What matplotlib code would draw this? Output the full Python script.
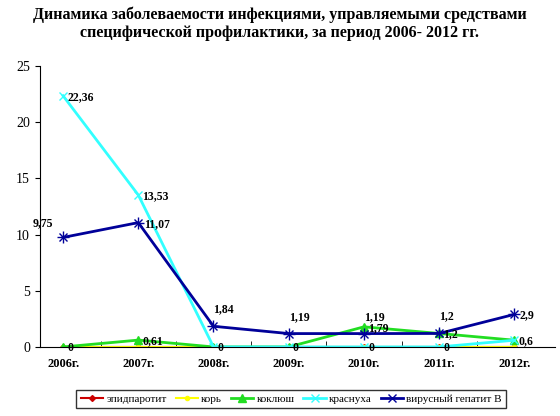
import matplotlib
matplotlib.use("Agg")
import matplotlib.pyplot as plt

years = ["2006г.", "2007г.", "2008г.", "2009г.", "2010г.", "2011г.", "2012г."]
epid = [0, 0, 0, 0, 0, 0, 0]
kor = [0, 0, 0, 0, 0, 0, 0]
koklush = [0, 0.61, 0, 0, 1.79, 1.2, 0.6]
krasnuha = [22.36, 13.53, 0, 0, 0, 0, 0.6]
gepatit = [9.75, 11.07, 1.84, 1.19, 1.19, 1.2, 2.9]

plt.rcParams['font.family'] = ['Liberation Serif', 'DejaVu Serif']
fig = plt.figure(figsize=(5.6, 4.16), dpi=100)
ax = fig.add_axes([0.071, 0.166, 0.92, 0.675])
x = list(range(len(years)))

ax.plot(x, epid, color='#cc0000', marker='D', ms=3, lw=1.5, label='эпидпаротит')
ax.plot(x, kor, color='#ffff00', marker='o', ms=3, lw=1.5, label='корь')
ax.plot(x, koklush, color='#22dd22', marker='^', ms=6, lw=2, label='коклюш')
ax.plot(x, krasnuha, color='#33ffff', marker='x', ms=6, lw=2, label='краснуха')
ax.plot(x, gepatit, color='#000099', marker='x', ms=6, lw=2, label='вирусный гепатит В')
ax.plot(x, gepatit, color='#000099', marker='+', ms=8, lw=0)

def fmt(v):
    return ('%g' % v).replace('.', ',')

fs = 8.5
for i, v in enumerate(koklush):
    ax.annotate(fmt(v), (i, v), xytext=(3, -3), textcoords='offset points', fontsize=fs, fontweight='bold')
for i in (0, 1):
    ax.annotate(fmt(krasnuha[i]), (i, krasnuha[i]), xytext=(3, -3), textcoords='offset points', fontsize=fs, fontweight='bold')
for i in (4, 5):
    ax.annotate(fmt(krasnuha[i]), (i, krasnuha[i]), xytext=(3, -3), textcoords='offset points', fontsize=fs, fontweight='bold')
for i, v in enumerate(gepatit):
    if i == 0:
        off = (-22, 8)
    elif i in (1, 6):
        off = (4, -3)
    else:
        off = (0, 10)
    ax.annotate(fmt(v), (i, v), xytext=off, textcoords='offset points', fontsize=fs, fontweight='bold')

ax.set_xlim(-0.31, 6.54)
ax.set_ylim(0, 25)
ax.set_yticks(range(0, 26, 5))
ax.set_xticks(x)
ax.set_xticklabels(years, fontsize=9, fontweight='bold')
ax.tick_params(axis='y', labelsize=10)
ax.tick_params(axis='x', length=0, pad=8)
ax.set_xticks([i + 0.5 for i in range(0, 6)], minor=True)
ax.tick_params(axis='x', which='minor', length=4, direction='in')
for s in ('top', 'right'):
    ax.spines[s].set_visible(False)

fig.text(0.5, 0.985, 'Динамика заболеваемости инфекциями, управляемыми средствами\nспецифической профилактики, за период 2006- 2012 гг.',
         ha='center', va='top', fontsize=11.5, fontweight='bold')
fig.legend(loc='lower center', bbox_to_anchor=(0.52, 0.005), ncol=5, fontsize=8,
           frameon=True, edgecolor='black', fancybox=False, handlelength=2, columnspacing=0.8, handletextpad=0.3)
fig.savefig('out.png', dpi=100)
